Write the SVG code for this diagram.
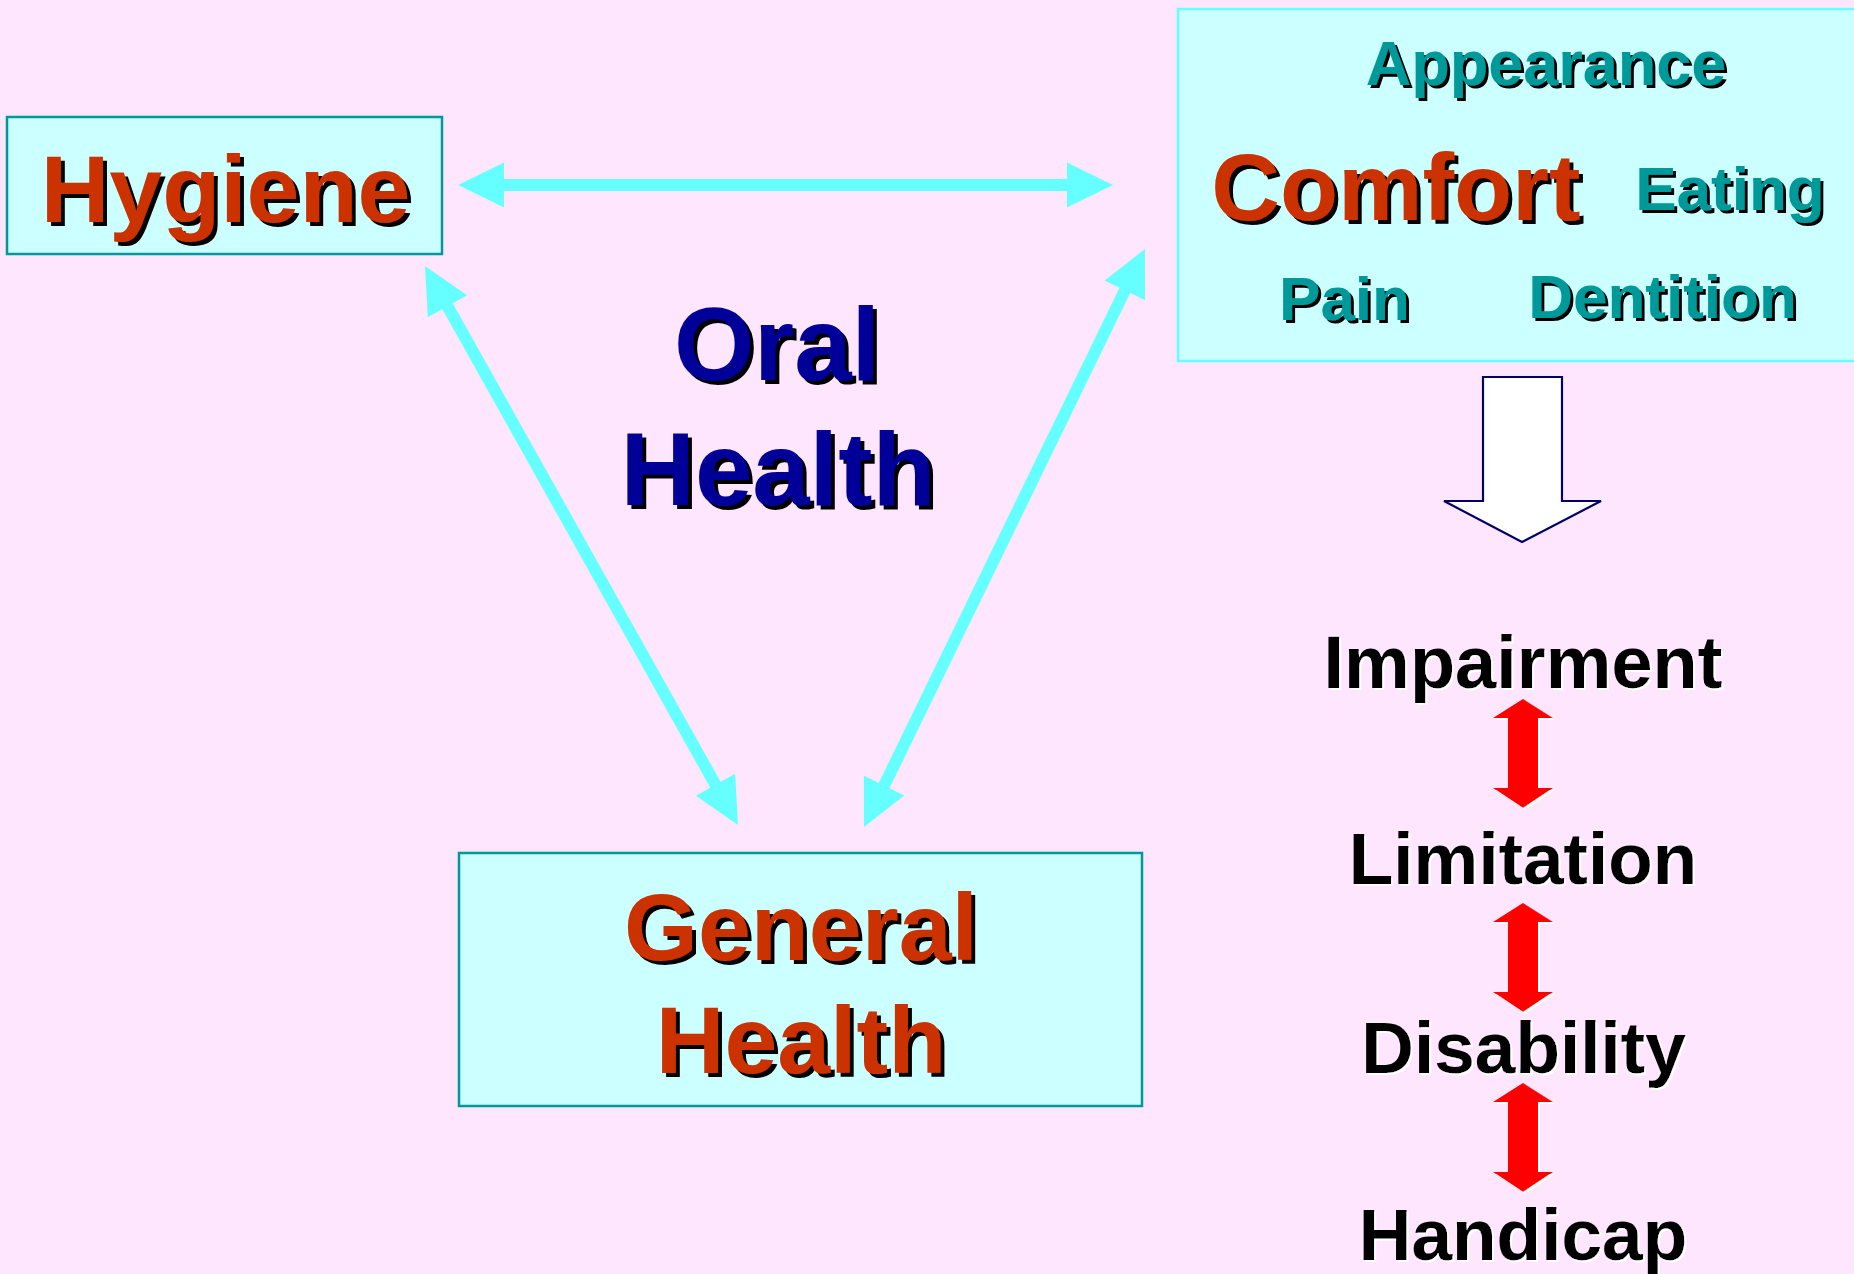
<svg xmlns="http://www.w3.org/2000/svg" width="1854" height="1274" viewBox="0 0 1854 1274">
<style>
.t{font-family:"Liberation Sans",Arial,sans-serif;font-weight:bold;text-anchor:middle}
.red{fill:#CC3300;filter:url(#ds4)}
.navy{fill:#000099;filter:url(#ds4)}
.teal{fill:#009999;filter:url(#ds3)}
.blk{fill:#000;filter:url(#ws)}
.box{fill:#CCFFFF;stroke:#009999;stroke-width:2.5}
.conn{stroke:#66FFFF;stroke-width:12;fill:none}
.dbl{fill:#FF0000;filter:url(#ws)}
</style>
<defs>
<filter id="ds4" x="-10%" y="-20%" width="120%" height="140%">
<feOffset in="SourceAlpha" dx="4" dy="4" result="o"/>
<feMerge><feMergeNode in="o"/><feMergeNode in="SourceGraphic"/></feMerge>
</filter>
<filter id="ds3" x="-10%" y="-20%" width="120%" height="140%">
<feOffset in="SourceAlpha" dx="3" dy="3" result="o"/>
<feMerge><feMergeNode in="o"/><feMergeNode in="SourceGraphic"/></feMerge>
</filter>
<filter id="ws" x="-10%" y="-20%" width="120%" height="140%">
<feOffset in="SourceAlpha" dx="2" dy="2" result="o"/>
<feFlood flood-color="#FFFFFF" result="w"/>
<feComposite in="w" in2="o" operator="in" result="wo"/>
<feMerge><feMergeNode in="wo"/><feMergeNode in="SourceGraphic"/></feMerge>
</filter>
<marker id="cy" markerUnits="userSpaceOnUse" markerWidth="50" markerHeight="50" refX="0" refY="0" viewBox="0 -25 50 50" orient="auto-start-reverse" overflow="visible">
<path d="M-1,-22.5 L45,0 L-1,22.5 z" fill="#66FFFF"/>
</marker>
<path id="redArrow" d="M0,0 L30,19 L15,19 L15,89 L30,89 L0,109 L-30,89 L-15,89 L-15,19 L-30,19 z"/>
</defs>
<rect x="0" y="0" width="1854" height="1274" fill="#FFE6FF"/>

<g id="connectors">
<line class="conn" x1="503" y1="185" x2="1068" y2="185" marker-start="url(#cy)" marker-end="url(#cy)"/>
<line class="conn" x1="447" y1="305.3" x2="716" y2="785.7" marker-start="url(#cy)" marker-end="url(#cy)"/>
<line class="conn" x1="1125.3" y1="289.5" x2="883.7" y2="786.5" marker-start="url(#cy)" marker-end="url(#cy)"/>
</g>

<g id="hygiene">
<rect class="box" x="7" y="117" width="435" height="137"/>
<text class="t red" x="225.5" y="222" font-size="95">Hygiene</text>
</g>

<g id="oral-health">
<text class="t navy" x="777" y="380" font-size="103">Oral</text>
<text class="t navy" x="778" y="505" font-size="103">Health</text>
</g>

<g id="general-health">
<rect class="box" x="459" y="853" width="683" height="253"/>
<text class="t red" x="801" y="960" font-size="95">General</text>
<text class="t red" x="801" y="1073" font-size="95">Health</text>
</g>

<g id="comfort-box">
<rect x="1178" y="9" width="690" height="352" fill="#CCFFFF" stroke="#66FFFF" stroke-width="2.5"/>
<text class="t teal" x="1546" y="85" font-size="63">Appearance</text>
<text class="t red" x="1396" y="220" font-size="95">Comfort</text>
<text class="t teal" x="1730" y="210" font-size="62">Eating</text>
<text class="t teal" x="1344.5" y="320" font-size="62">Pain</text>
<text class="t teal" x="1662.5" y="318" font-size="62">Dentition</text>
</g>

<g id="down-arrow">
<path d="M1483,377 L1562,377 L1562,501 L1601,501 L1522,542 L1444,501 L1483,501 z" fill="#FFFFFF" stroke="#000066" stroke-width="2.2" stroke-linejoin="miter"/>
</g>

<g id="impairment">
<text class="t blk" x="1523" y="688" font-size="74">Impairment</text>
</g>
<g id="limitation">
<text class="t blk" x="1523" y="884" font-size="73">Limitation</text>
</g>
<g id="disability">
<text class="t blk" x="1523.5" y="1073" font-size="73">Disability</text>
</g>
<g id="handicap">
<text class="t blk" x="1523" y="1260" font-size="73">Handicap</text>
</g>

<g id="red-arrows">
<use href="#redArrow" x="1523" y="699" class="dbl"/>
<use href="#redArrow" x="1523" y="903" class="dbl"/>
<use href="#redArrow" x="1523" y="1083" class="dbl"/>
</g>
</svg>
